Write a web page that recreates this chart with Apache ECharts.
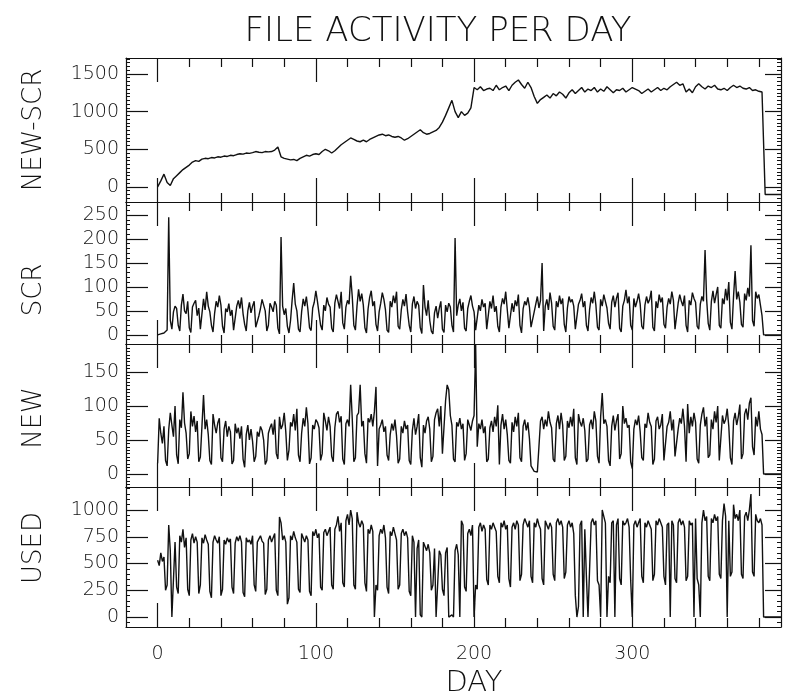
<!DOCTYPE html>
<html>
<head>
<meta charset="utf-8">
<title>File activity per day</title>
<script src="https://cdn.jsdelivr.net/npm/echarts@6/dist/echarts.min.js"></script>
<style>
  html, body { margin: 0; padding: 0; background: #fff; }
  #chart { width: 789px; height: 700px; }
</style>
</head>
<body>
<div id="chart"></div>
<script>
// day ticks along the shared x axis
const majorDays = [0, 100, 200, 300];
const minorDays = [20, 40, 60, 80, 120, 140, 160, 180, 220, 240, 260, 280, 320, 340, 360, 380];

// y tick labels of each panel
const newScrTicks = [0, 500, 1000, 1500];
const scrTicks = [0, 50, 100, 150, 200, 250];
const newTicks = [0, 50, 100, 150];
const usedTicks = [0, 250, 500, 750, 1000];

// NEW-SCR, one reading every 2 days from day 0
const newScrStep = 2;
const newScr = [
  0, 80, 170, 60, 20, 110, 150, 190, 230, 260, 290, 330, 350, 340, 370, 380, 375, 390, 385, 400,
  395, 410, 405, 420, 415, 430, 440, 435, 450, 445, 455, 470, 460, 455, 470, 465, 470, 490, 530, 400,
  380, 370, 360, 365, 350, 380, 400, 420, 410, 430, 440, 430, 470, 500, 480, 450, 480, 520, 560, 590,
  620, 650, 630, 610, 600, 620, 600, 630, 650, 670, 690, 700, 680, 690, 670, 660, 670, 650, 620, 640,
  670, 700, 730, 760, 720, 700, 710, 730, 750, 790, 860, 950, 1050, 1150, 1000, 920, 1000, 950, 980, 1050,
  1320, 1290, 1330, 1280, 1300, 1310, 1280, 1350, 1290, 1320, 1340, 1280, 1350, 1390, 1420, 1360, 1310, 1390, 1320, 1200,
  1110, 1160, 1190, 1220, 1180, 1240, 1210, 1260, 1230, 1180, 1250, 1290, 1240, 1280, 1320, 1260, 1300, 1280, 1320, 1260,
  1300, 1270, 1330, 1290, 1250, 1290, 1280, 1310, 1260, 1290, 1320, 1300, 1280, 1240, 1270, 1300, 1260, 1290, 1320, 1280,
  1310, 1290, 1330, 1360, 1390, 1350, 1370, 1260, 1300, 1250, 1330, 1370, 1330, 1300, 1340, 1320, 1350, 1300, 1290, 1310,
  1280, 1320, 1350, 1320, 1340, 1310, 1300, 1320, 1280, 1290, 1270, 1260,
  -100, -100, -100, -100, -100, -100
];

// SCR per day from day 0 (one week per row)
const scr = [
  0, 3, 2, 5, 4, 6, 10,
  245, 30, 12, 48, 60, 55, 20,
  8, 62, 85, 50, 44, 70, 15,
  5, 58, 66, 72, 40, 56, 12,
  10, 75, 52, 90, 60, 48, 20,
  6, 45, 70, 58, 82, 62, 18,
  4, 55, 48, 65, 40, 52, 10,
  14, 60, 72, 55, 78, 44, 22,
  8, 50, 68, 46, 60, 70, 16,
  12, 40, 55, 74, 62, 50, 8,
  20, 66, 58, 48, 70, 62, 14,
  2, 204, 60, 42, 55, 18, 4,
  30, 72, 108, 64, 50, 12, 6,
  48, 75, 60, 80, 52, 15, 9,
  56, 68, 92, 70, 45, 20, 10,
  62, 50, 78, 64, 58, 14, 6,
  66, 84, 70, 55, 90, 25, 12,
  58, 72, 64, 123, 80, 20, 10,
  60, 95, 70, 86, 62, 15, 4,
  54, 78, 92, 60, 70, 22, 8,
  48, 66, 88, 74, 52, 10, 5,
  70, 58, 82, 66, 90, 18, 12,
  52, 74, 60, 85, 48, 20, 6,
  64, 80, 55, 70, 62, 15, 3,
  104, 58, 40, 72, 30, 8, 2,
  46, 60, 35, 55, 70, 12, 5,
  62, 48, 66, 58, 20, 6, 202,
  40, 62, 75, 50, 68, 14, 8,
  55, 70, 82, 60, 48, 10, 6,
  62, 50, 74, 58, 66, 12, 8,
  70, 55, 82, 48, 60, 18, 6,
  58, 76, 64, 90, 52, 14, 10,
  66, 48, 72, 60, 84, 20, 4,
  54, 70, 62, 78, 58, 16, 12,
  48, 64, 80, 56, 72, 150, 8,
  60, 74, 52, 88, 66, 18, 10,
  70, 58, 82, 64, 76, 22, 6,
  56, 80, 68, 74, 60, 12, 14,
  64, 72, 86, 58, 70, 20, 8,
  52, 78, 66, 90, 62, 16, 10,
  74, 60, 84, 70, 56, 24, 12,
  68, 82, 58, 76, 88, 14, 6,
  60, 72, 94, 66, 80, 20, 10,
  76, 58, 70, 86, 64, 18, 12,
  62, 80, 66, 74, 92, 16, 8,
  70, 56, 84, 68, 78, 22, 14,
  58, 76, 64, 90, 72, 12, 10,
  66, 84, 70, 60, 82, 20, 6,
  72, 62, 88, 76, 68, 18, 12,
  64, 80, 70, 177, 74, 24, 10,
  70, 92, 66, 84, 100, 20, 14,
  76, 64, 96, 72, 110, 26, 12,
  80, 133, 74, 90, 68, 22, 16,
  86, 72, 98, 80, 187, 30, 18,
  90, 76, 84, 62, 40,
  0, 0, 0, 0, 0, 0, 0, 0, 0, 0, 0, 0
];

// NEW per day from day 0
const newFiles = [
  16, 82, 60, 45, 70, 20, 12,
  65, 90, 72, 55, 100, 28, 15,
  80, 68, 120, 75, 60, 22, 30,
  92, 70, 85, 62, 78, 18, 25,
  70, 116, 66, 80, 58, 20, 14,
  88, 72, 60, 75, 82, 24, 18,
  66, 78, 55, 70, 62, 15, 20,
  74, 60, 68, 52, 70, 22, 10,
  58, 72, 50, 66, 48, 18, 26,
  62, 55, 70, 64, 50, 14, 20,
  60, 68, 74, 58, 80, 30, 22,
  84, 66, 72, 90, 62, 20, 35,
  76, 70, 88, 64, 96, 28, 18,
  60, 82, 70, 98, 74, 15, 24,
  72, 66, 80, 76, 68, 20, 30,
  90, 78, 64, 84, 70, 26, 18,
  68, 88, 92, 76, 85, 22, 14,
  74, 80, 70, 131, 82, 18, 24,
  86, 90, 131, 70, 78, 30, 16,
  82, 76, 88, 70, 92, 128, 12,
  66, 72, 80, 62, 70, 28, 20,
  58, 74, 64, 80, 56, 16, 22,
  70, 60, 78, 66, 72, 20, 14,
  64, 82, 58, 70, 88, 24, 10,
  72, 60, 78, 84, 66, 18, 26,
  80, 90, 96, 70, 100, 30, 28,
  108, 131, 124, 86, 72, 22, 18,
  76, 70, 82, 66, 74, 20, 30,
  80, 72, 64, 78, 86, 190, 40,
  74, 66, 80, 60, 70, 18, 22,
  68, 78, 62, 84, 70, 101, 14,
  72, 88, 66, 80, 58, 20, 16,
  76, 62, 84, 70, 90, 24, 18,
  70, 80, 64, 76, 52, 12, 8,
  4, 2, 3, 40, 78, 84, 66,
  80, 70, 92, 76, 68, 22, 18,
  74, 86, 66, 90, 72, 20, 26,
  78, 68, 84, 70, 96, 24, 14,
  88, 76, 70, 82, 64, 18, 22,
  72, 80, 66, 92, 78, 26, 16,
  84, 119, 74, 80, 70, 20, 12,
  70, 86, 64, 78, 88, 22, 30,
  100, 74, 82, 68, 72, 18, 8,
  66, 80, 72, 86, 62, 24, 20,
  74, 68, 90, 76, 70, 14, 22,
  78, 84, 66, 72, 88, 20, 18,
  70, 76, 92, 64, 80, 26, 24,
  66, 82, 74, 96, 70, 18, 103,
  60, 84, 70, 90, 76, 22, 16,
  72, 88, 98, 70, 84, 24, 28,
  80, 66, 92, 76, 100, 20, 18,
  86, 74, 80, 96, 70, 24, 14,
  78, 90, 72, 84, 102, 22, 30,
  88, 96, 80, 104, 112, 40, 28,
  84, 70, 92, 66, 58,
  0, 0, 0, 0, 0, 0, 0, 0, 0, 0, 0, 0
];

// USED per day from day 0
const used = [
  530, 480, 600, 520, 560, 250, 300,
  860, 620, 0, 10, 700, 280, 220,
  760, 700, 820, 650, 740, 260, 200,
  720, 780, 690, 750, 700, 220, 300,
  740, 690, 770, 720, 680, 240, 180,
  700, 760, 720, 690, 750, 200, 260,
  720, 680, 740, 700, 730, 280, 220,
  690, 750, 710, 760, 700, 230, 190,
  740, 700, 720, 680, 760, 300, 240,
  700, 730, 760, 710, 690, 210, 260,
  720, 760, 700, 740, 780, 250, 200,
  935, 880, 720, 760, 700, 120, 180,
  760, 720, 800, 740, 700, 260, 230,
  780, 740, 700, 760, 720, 240, 200,
  800, 760, 820, 740, 780, 280, 250,
  790, 820, 760, 800, 840, 300, 260,
  820, 860, 940, 800, 880, 320, 280,
  900, 960, 860, 1000, 920, 300, 260,
  980, 880, 840, 900, 860, 320, 240,
  820, 780, 860, 800, 0, 300, 250,
  760, 820, 780, 860, 740, 280, 220,
  800, 760, 840, 780, 720, 260, 300,
  780, 820, 760, 800, 740, 240, 200,
  760, 700, 0, 640, 720, 20, 0,
  700, 660, 620, 680, 600, 250, 300,
  640, 0, 10, 620, 580, 260, 200,
  600, 650, 0, 0, 20, 0, 620,
  680, 580, 0, 900, 860, 280, 240,
  780, 820, 760, 860, 0, 300, 260,
  840, 880, 800, 860, 820, 350, 300,
  860, 820, 880, 840, 800, 380, 320,
  880, 840, 900, 820, 860, 360, 280,
  840, 880, 820, 900, 860, 340, 400,
  860, 920, 880, 840, 900, 380, 320,
  880, 840, 920, 860, 820, 360, 300,
  900, 860, 820, 880, 840, 400, 340,
  880, 920, 860, 900, 840, 360, 420,
  860, 900, 840, 880, 780, 200, 0,
  100, 860, 900, 0, 820, 380, 0,
  0, 880, 920, 860, 900, 340, 300,
  0, 1000, 940, 880, 0, 380, 320,
  880, 900, 0, 860, 920, 360, 300,
  900, 860, 880, 920, 840, 340, 0,
  860, 900, 840, 880, 920, 380, 320,
  880, 840, 900, 860, 820, 340, 400,
  900, 860, 920, 880, 840, 380, 300,
  860, 880, 0, 900, 860, 360, 320,
  880, 920, 860, 900, 840, 340, 380,
  900, 860, 880, 0, 920, 360, 300,
  0, 880, 1000, 900, 940, 380, 340,
  920, 880, 960, 900, 940, 400, 360,
  900, 1060, 940, 0, 900, 380, 420,
  1050, 920, 960, 900, 1000, 400, 360,
  940, 980, 900, 1000, 1150, 420, 380,
  960, 900, 880, 920, 860,
  0, 0, 0, 0, 0, 0, 0, 0, 0, 0, 0, 0
];

const FONT = "'DejaVu Sans', 'Liberation Sans', sans-serif";
const INK = '#111';

const panels = [
  { name: 'NEW-SCR', values: newScr, step: newScrStep, ticks: newScrTicks, dot: 50, min: -200, max: 1712, top: 58, height: 144 },
  { name: 'SCR', values: scr, step: 1, ticks: scrTicks, dot: 10, min: -19, max: 277, top: 202, height: 142 },
  { name: 'NEW', values: newFiles, step: 1, ticks: newTicks, dot: 5, min: -19, max: 191, top: 344, height: 143 },
  { name: 'USED', values: used, step: 1, ticks: usedTicks, dot: 50, min: -93, max: 1215, top: 487, height: 140 }
];

// little dashes along the side frames
const dotTicks = (p) => {
  const out = [];
  for (let v = Math.ceil(p.min / p.dot) * p.dot; v <= p.max; v += p.dot) out.push(v);
  return out;
};

const plain = (v) => String(v);

const grid = [];
const xAxis = [];
const yAxis = [];
const series = [];
const last = panels.length - 1;

panels.forEach((p, i) => {
  grid.push({ left: 126, right: 8, top: p.top, height: p.height });

  const xBase = {
    gridIndex: i, type: 'value', min: -20, max: 394,
    splitLine: { show: false },
    axisLabel: { show: false }
  };
  ['top', 'bottom'].forEach(pos => {
    const isFoot = pos === 'bottom' && i === last;
    xAxis.push({
      ...xBase, position: pos,
      axisLine: { show: true, onZero: false, lineStyle: { color: INK, width: 1.2 } },
      axisTick: { show: true, inside: true, length: 24, customValues: majorDays, lineStyle: { color: INK, width: 1.2 } },
      axisLabel: isFoot ? {
        show: true, customValues: majorDays, margin: 18, color: INK, formatter: plain,
        fontFamily: FONT, fontSize: 19, fontWeight: 'lighter'
      } : { show: false }
    });
    xAxis.push({
      ...xBase, position: pos,
      axisLine: { show: false, onZero: false },
      axisTick: { show: true, inside: true, length: 9, customValues: minorDays, lineStyle: { color: INK, width: 1.2 } }
    });
  });

  const yBase = {
    gridIndex: i, type: 'value', min: p.min, max: p.max,
    splitLine: { show: false }
  };
  ['left', 'right'].forEach(pos => {
    yAxis.push({
      ...yBase, position: pos,
      axisLine: { show: true, onZero: false, lineStyle: { color: INK, width: 1.2 } },
      axisTick: { show: true, inside: true, length: pos === 'left' ? 22 : 16, customValues: p.ticks, lineStyle: { color: INK, width: 1.2 } },
      axisLabel: pos === 'left' ? {
        show: true, customValues: p.ticks, margin: 7, color: INK, formatter: plain,
        fontFamily: FONT, fontSize: 19, fontWeight: 'lighter'
      } : { show: false }
    });
    yAxis.push({
      ...yBase, position: pos,
      axisLine: { show: false, onZero: false },
      axisLabel: { show: false },
      axisTick: { show: true, inside: true, length: 4, customValues: dotTicks(p), lineStyle: { color: INK, width: 1 } }
    });
  });

  series.push({
    name: p.name,
    type: 'line',
    xAxisIndex: i * 4 + 2,
    yAxisIndex: i * 4,
    showSymbol: false,
    silent: true,
    lineStyle: { color: INK, width: 1.4 },
    data: p.values.map((v, k) => [k * p.step, v])
  });
});

// rotated panel names at the left, axis title under the days
const names = [
  { text: 'NEW-SCR', y: 130 },
  { text: 'SCR', y: 290 },
  { text: 'NEW', y: 418 },
  { text: 'USED', y: 548 }
];

const labelText = (text, x, y, size, rotation) => ({
  type: 'text', x, y, rotation,
  style: {
    text, fill: INK,
    font: `lighter ${size}px 'DejaVu Sans', sans-serif`,
    textAlign: 'center', textVerticalAlign: 'middle'
  }
});

const chart = echarts.init(document.getElementById('chart'));
chart.setOption({
  animation: false,
  backgroundColor: '#fff',
  title: {
    text: 'FILE ACTIVITY PER DAY',
    left: 433, top: 10, textAlign: 'center',
    textStyle: { color: INK, fontFamily: FONT, fontSize: 34, fontWeight: 'lighter' }
  },
  grid, xAxis, yAxis, series,
  graphic: [
    ...names.map(n => labelText(n.text, 34, n.y, 26, Math.PI / 2)),
    labelText('DAY', 474, 683, 29, 0)
  ]
});
</script>
</body>
</html>
